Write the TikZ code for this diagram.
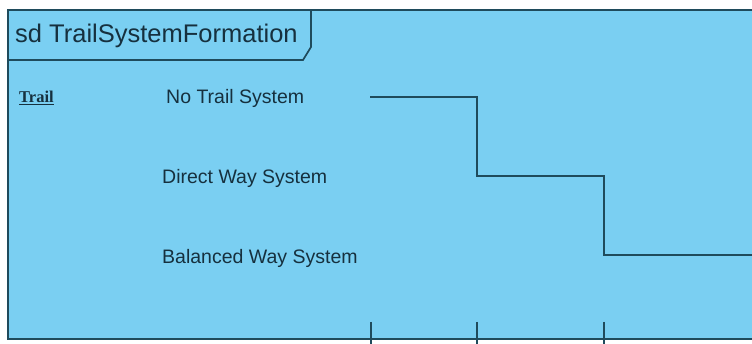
\documentclass[tikz,border=0pt]{standalone}
\usepackage{fontspec}
\setmainfont{Liberation Sans}
\newfontfamily\trailfont{Liberation Serif}
\definecolor{umlfill}{HTML}{7ACFF2}
\definecolor{umlline}{HTML}{1F4B5C}
\definecolor{umltext}{HTML}{16303E}
\begin{document}
\begin{tikzpicture}[x=1pt,y=-1pt,
  frameline/.style={draw=umlline,line width=1.7pt},
  stateline/.style={draw=umlline,line width=2pt},
  statelabel/.style={anchor=base west,inner sep=0pt,text=umltext,font=\fontsize{19.5}{21}\selectfont},
  ticklabel/.style={draw=umlline,line width=1.5pt}]
\useasboundingbox (0,0) rectangle (752,344);
\clip (0,0) rectangle (752,344);
\fill[white] (0,0) rectangle (752,344);
% frame
\path[fill=umlfill,frameline] (8,10) rectangle (770,339);
% title tab
\draw[frameline] (8,60) -- (303,60) -- (311,47) -- (311,10);
\node[anchor=base west,inner sep=0pt,text=umltext,font=\fontsize{25.5}{28}\selectfont] (title) at (15,43) {sd TrailSystemFormation};
% lifeline name
\node[anchor=base west,inner sep=0pt,text=umltext,font=\trailfont\bfseries\fontsize{16.5}{18}\selectfont] (trail) at (19,103) {\underline{Trail}};
% state labels
\node[statelabel] (s1) at (166,104) {No Trail System};
\node[statelabel] (s2) at (162,184) {Direct Way System};
\node[statelabel] (s3) at (162,264) {Balanced Way System};
% state line
\coordinate (a0) at (370,97);
\coordinate (a1) at (477,97);
\coordinate (b1) at (477,176);
\coordinate (b2) at (604,176);
\coordinate (c2) at (604,255);
\coordinate (c3) at (760,255);
\draw[stateline] (a0) -- (a1) -- (b1) -- (b2) -- (c2) -- (c3);
% time ticks
\coordinate (t1) at (371,322);
\coordinate (t2) at (477,322);
\coordinate (t3) at (604,322);
\draw[ticklabel] (t1) -- ++(0,30);
\draw[ticklabel] (t2) -- ++(0,30);
\draw[ticklabel] (t3) -- ++(0,30);
\end{tikzpicture}
\end{document}
